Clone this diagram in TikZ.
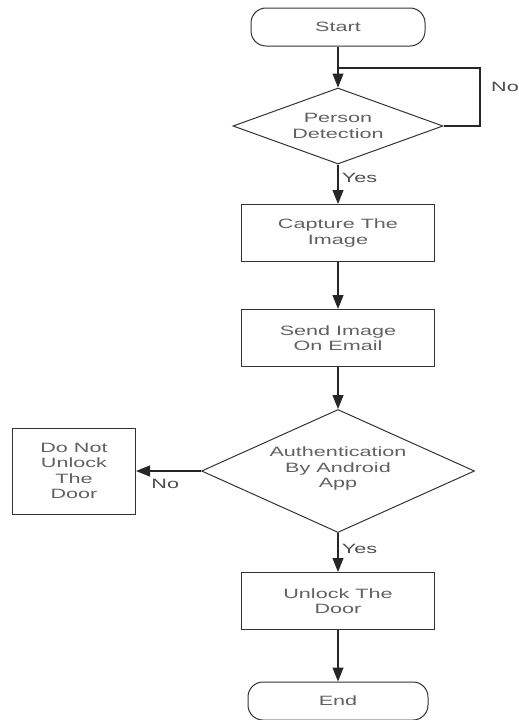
\documentclass[tikz,border=0pt]{standalone}
\usepackage{fontspec}
\setmainfont{Liberation Sans}[FakeStretch=1.6]
\usetikzlibrary{arrows.meta,shapes.geometric}
\begin{document}
\begin{tikzpicture}[x=1pt,y=-1pt,
  every node/.style={font=\fontsize{13.5pt}{15.5pt}\selectfont, text=black!62, align=center},
  line/.style={draw=black!85, line width=1.1pt},
  arr/.style={line, -{Triangle[width=11pt,length=14pt]}},
  term/.style={draw=black!80, line width=1pt, rounded corners=15pt, minimum width=174pt, minimum height=38pt, inner sep=0pt},
  proc/.style={draw=black!80, line width=1pt, minimum width=193pt, minimum height=57pt, inner sep=0pt},
  dec/.style={draw=black!80, line width=1pt, diamond, inner sep=0pt},
  lbl/.style={text=black!70}]
\useasboundingbox (0,0) rectangle (519,720);
\node[term] (start) at (338,27) {Start};
\node[dec, minimum width=210pt, minimum height=76pt, aspect=2.76] (det) at (338,126) {};
\node at (338,126) {Person\\Detection};
\node[proc] (cap) at (338,233) {Capture The\\Image};
\node[proc] (send) at (338,338) {Send Image\\On Email};
\node[dec, minimum width=273pt, minimum height=123pt, aspect=2.22] (auth) at (338,471) {};
\node at (338,469) {Authentication\\By Android\\App};
\node[proc, minimum width=123pt, minimum height=86pt] (no) at (74,471) {Do Not\\Unlock\\The\\Door};
\node[proc] (unl) at (338,601) {Unlock The\\Door};
\node[term, minimum width=180pt] (end) at (338,701) {End};
\coordinate (join) at (338,68);
\coordinate (cr) at (480,68);
\draw[arr] (start.south) -- (det.north);
\draw[line] (det.east) -| (cr) -- (join);
\node[lbl] at (505,87) {No};
\draw[arr] (det.south) -- (cap.north) node[lbl, pos=0.35, right=0pt] {Yes};
\draw[arr] (cap) -- (send);
\draw[arr] (send) -- (auth.north);
\draw[arr] (auth.west) -- (no.east) node[lbl, pos=0.55, below=4pt] {No};
\draw[arr] (auth.south) -- (unl.north) node[lbl, pos=0.4, right=0pt] {Yes};
\draw[arr] (unl) -- (end);
\end{tikzpicture}
\end{document}
